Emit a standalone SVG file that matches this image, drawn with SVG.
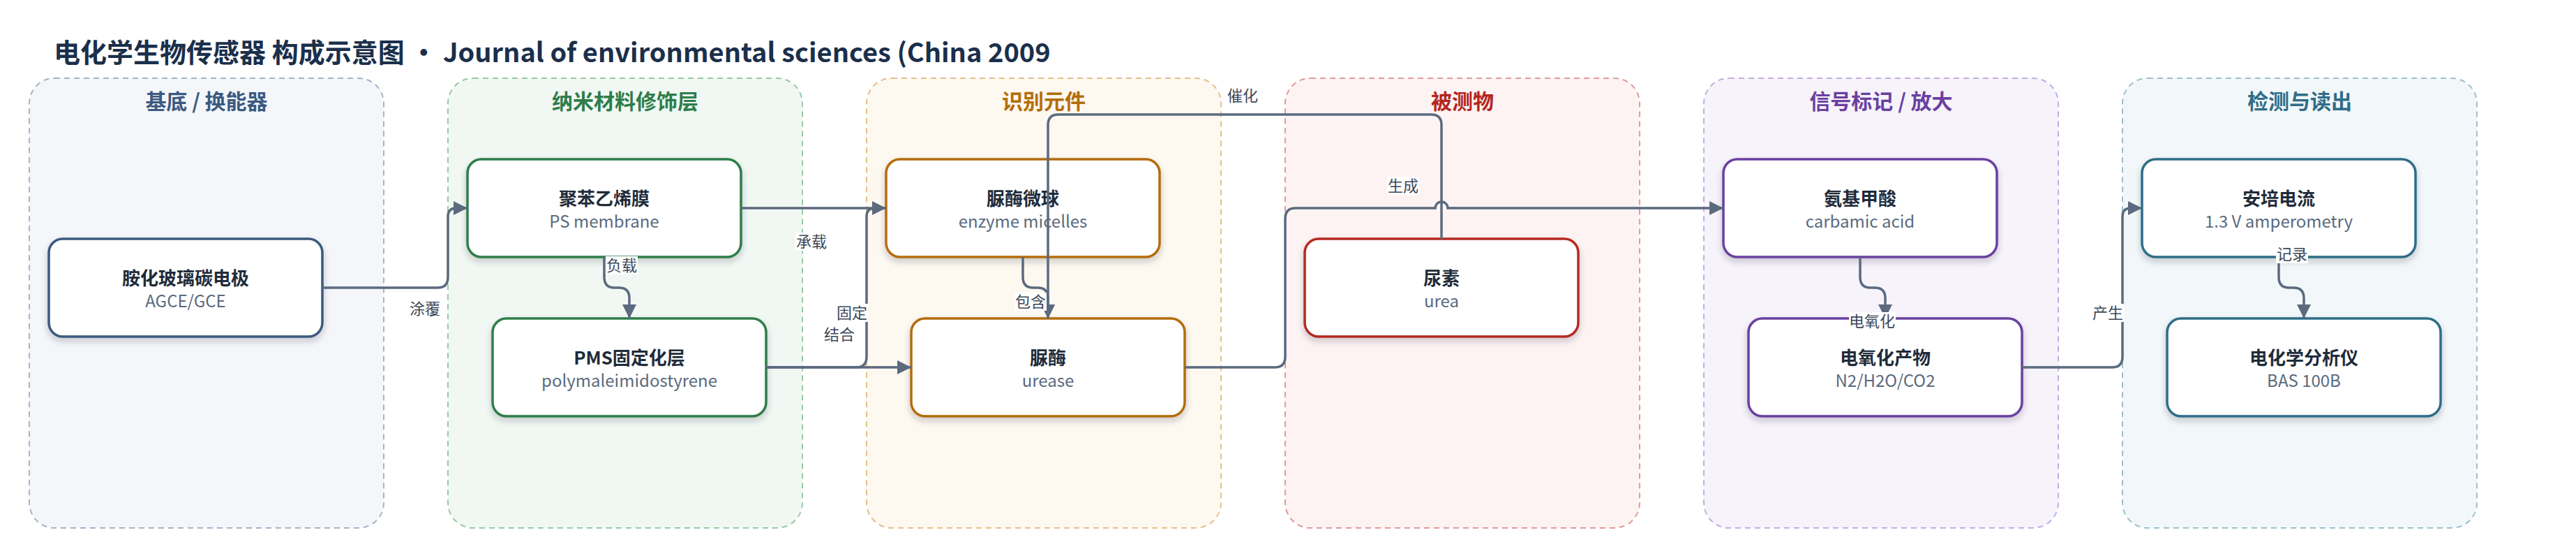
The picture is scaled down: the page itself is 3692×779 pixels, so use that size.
<svg xmlns="http://www.w3.org/2000/svg" width="3692" height="779" viewBox="0 0 3692 779">
<defs>
<style>
text{font-family:"Noto Sans CJK SC","Noto Sans",sans-serif;}
.title{font-size:38px;font-weight:700;fill:#1b2f4b;}
.lane{stroke-width:2;stroke-dasharray:8 6;}
.lh{font-size:30px;font-weight:700;text-anchor:middle;}
.node{fill:#ffffff;stroke-width:3.5;filter:url(#sh);}
.nt{font-size:26px;font-weight:700;fill:#1f2b3a;text-anchor:middle;}
.ns{font-size:24px;fill:#5b6a7d;text-anchor:middle;}
.edge{fill:none;stroke:#5b6a7f;stroke-width:3.5;}
.lbg{fill:#ffffff;}
.lt{font-size:22px;fill:#3d4858;text-anchor:middle;}
</style>
<filter id="sh" x="-10%" y="-10%" width="120%" height="140%">
<feDropShadow dx="0" dy="5" stdDeviation="5" flood-color="#1f2b3a" flood-opacity="0.22"/>
</filter>
<marker id="arr" viewBox="0 0 20 20" refX="20" refY="10" markerWidth="20" markerHeight="20" markerUnits="userSpaceOnUse" orient="auto">
<path d="M0,0 L20,10 L0,20 Z" fill="#5b6a7f"/>
</marker>
</defs>
<rect width="3692" height="779" fill="#ffffff"/>
<text class="title" x="77" y="89">电化学生物传感器 构成示意图 • Journal of environmental sciences (China 2009</text>

<g id="lanes">
<g id="lane-substrate">
<rect class="lane" x="42" y="112" width="508" height="644" rx="36" fill="#f4f6fa" stroke="#a7b3c6"/>
<text class="lh" x="296" y="156" fill="#3b5a80">基底 / 换能器</text>
</g>
<g id="lane-nano">
<rect class="lane" x="642" y="112" width="508" height="644" rx="36" fill="#f1f8f3" stroke="#97c9a6"/>
<text class="lh" x="896" y="156" fill="#2e7d4a">纳米材料修饰层</text>
</g>
<g id="lane-recog">
<rect class="lane" x="1242" y="112" width="508" height="644" rx="36" fill="#fdf8f0" stroke="#e5c08a"/>
<text class="lh" x="1496" y="156" fill="#b36d0a">识别元件</text>
</g>
<g id="lane-analyte">
<rect class="lane" x="1842" y="112" width="508" height="644" rx="36" fill="#fdf3f3" stroke="#e39a9a"/>
<text class="lh" x="2096" y="156" fill="#b3261e">被测物</text>
</g>
<g id="lane-signal">
<rect class="lane" x="2442" y="112" width="508" height="644" rx="36" fill="#f6f3fb" stroke="#c3aee0"/>
<text class="lh" x="2696" y="156" fill="#6b3fa0">信号标记 / 放大</text>
</g>
<g id="lane-detect">
<rect class="lane" x="3042" y="112" width="508" height="644" rx="36" fill="#f2f7f9" stroke="#9ec0cc"/>
<text class="lh" x="3296" y="156" fill="#2f6d88">检测与读出</text>
</g>
</g>

<g id="nodes">
<g id="n-agce">
<rect class="node" x="70" y="342" width="392" height="140" rx="20" stroke="#3b5a80"/>
<text class="nt" x="266" y="408">胺化玻璃碳电极</text>
<text class="ns" x="266" y="440">AGCE/GCE</text>
</g>
<g id="n-ps">
<rect class="node" x="670" y="228" width="392" height="140" rx="20" stroke="#2e7d4a"/>
<text class="nt" x="866" y="294">聚苯乙烯膜</text>
<text class="ns" x="866" y="326">PS membrane</text>
</g>
<g id="n-pms">
<rect class="node" x="706" y="456" width="392" height="140" rx="20" stroke="#2e7d4a"/>
<text class="nt" x="902" y="522">PMS固定化层</text>
<text class="ns" x="902" y="554">polymaleimidostyrene</text>
</g>
<g id="n-micelle">
<rect class="node" x="1270" y="228" width="392" height="140" rx="20" stroke="#b36d0a"/>
<text class="nt" x="1466" y="294">脲酶微球</text>
<text class="ns" x="1466" y="326">enzyme micelles</text>
</g>
<g id="n-urease">
<rect class="node" x="1306" y="456" width="392" height="140" rx="20" stroke="#b36d0a"/>
<text class="nt" x="1502" y="522">脲酶</text>
<text class="ns" x="1502" y="554">urease</text>
</g>
<g id="n-urea">
<rect class="node" x="1870" y="342" width="392" height="140" rx="20" stroke="#b52a22"/>
<text class="nt" x="2066" y="408">尿素</text>
<text class="ns" x="2066" y="440">urea</text>
</g>
<g id="n-carbamic">
<rect class="node" x="2470" y="228" width="392" height="140" rx="20" stroke="#6b3fa0"/>
<text class="nt" x="2666" y="294">氨基甲酸</text>
<text class="ns" x="2666" y="326">carbamic acid</text>
</g>
<g id="n-products">
<rect class="node" x="2506" y="456" width="392" height="140" rx="20" stroke="#6b3fa0"/>
<text class="nt" x="2702" y="522">电氧化产物</text>
<text class="ns" x="2702" y="554">N2/H2O/CO2</text>
</g>
<g id="n-amp">
<rect class="node" x="3070" y="228" width="392" height="140" rx="20" stroke="#2f6d88"/>
<text class="nt" x="3266" y="294">安培电流</text>
<text class="ns" x="3266" y="326">1.3 V amperometry</text>
</g>
<g id="n-bas">
<rect class="node" x="3106" y="456" width="392" height="140" rx="20" stroke="#2f6d88"/>
<text class="nt" x="3302" y="522">电化学分析仪</text>
<text class="ns" x="3302" y="554">BAS 100B</text>
</g>
</g>

<g id="connectors">
<path class="edge" marker-end="url(#arr)" d="M462,412 H627 Q642,412 642,397 V310 Q642,298 654,298 H670"/>
<path class="edge" marker-end="url(#arr)" d="M866,368 V397 Q866,412 881,412 H887 Q902,412 902,427 V456"/>
<path class="edge" marker-end="url(#arr)" d="M1062,298 H1270"/>
<path class="edge" d="M1098,526 H1227 Q1242,526 1242,511 V310 Q1242,298 1254,298 H1270"/>
<path class="edge" marker-end="url(#arr)" d="M1098,526 H1306"/>
<path class="edge" marker-end="url(#arr)" d="M1466,368 V397 Q1466,412 1481,412 H1487 Q1502,412 1502,427 V456"/>
<path class="edge" marker-end="url(#arr)" d="M2066,342 V179 Q2066,164 2051,164 H1517 Q1502,164 1502,179 V456"/>
<path class="edge" marker-end="url(#arr)" d="M1698,526 H1827 Q1842,526 1842,511 V313 Q1842,298 1857,298 H2057 A9,9 0 0 1 2075,298 H2470"/>
<path class="edge" marker-end="url(#arr)" d="M2666,368 V397 Q2666,412 2681,412 H2687 Q2702,412 2702,427 V456"/>
<path class="edge" marker-end="url(#arr)" d="M2898,526 H3027 Q3042,526 3042,511 V310 Q3042,298 3054,298 H3070"/>
<path class="edge" marker-end="url(#arr)" d="M3266,368 V397 Q3266,412 3281,412 H3287 Q3302,412 3302,427 V456"/>
</g>

<g id="edge-labels">
<rect class="lbg" x="586" y="429" width="46" height="26"/><text class="lt" x="609" y="450">涂覆</text>
<rect class="lbg" x="868" y="367" width="46" height="26"/><text class="lt" x="891" y="388">负载</text>
<rect class="lbg" x="1140" y="333" width="46" height="26"/><text class="lt" x="1163" y="354">承载</text>
<rect class="lbg" x="1198" y="435" width="46" height="26"/><text class="lt" x="1221" y="456">固定</text>
<rect class="lbg" x="1180" y="466" width="46" height="26"/><text class="lt" x="1203" y="487">结合</text>
<rect class="lbg" x="1454" y="419" width="46" height="26"/><text class="lt" x="1477" y="440">包含</text>
<rect class="lbg" x="1758" y="124" width="46" height="26"/><text class="lt" x="1781" y="145">催化</text>
<rect class="lbg" x="1988" y="253" width="46" height="26"/><text class="lt" x="2011" y="274">生成</text>
<rect class="lbg" x="2650" y="447" width="67" height="26"/><text class="lt" x="2683" y="468">电氧化</text>
<rect class="lbg" x="2998" y="435" width="46" height="26"/><text class="lt" x="3021" y="456">产生</text>
<rect class="lbg" x="3262" y="351" width="46" height="26"/><text class="lt" x="3285" y="372">记录</text>
</g>
</svg>
